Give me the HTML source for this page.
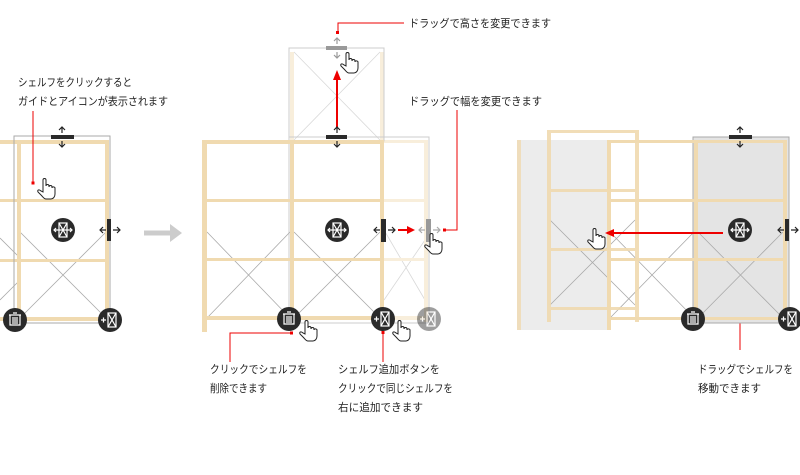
<!DOCTYPE html>
<html><head><meta charset="utf-8"><style>
html,body{margin:0;padding:0;background:#fff;}
svg text{font-family:"Liberation Sans","Noto Sans CJK JP",sans-serif;font-size:11px;fill:#222;}
</style></head><body>
<svg width="800" height="470" viewBox="0 0 800 470" xmlns="http://www.w3.org/2000/svg">
<defs>
<g id="trash"><circle r="12" fill="#2a2a2a"/><g stroke="#fff" stroke-width="1.2" fill="none"><path d="M-6,-5h12M-2,-7h4M-5,-5v10h10v-10M-2,-3v7M0,-3v7M2,-3v7"/></g></g>
<g id="add"><circle r="12" fill="#2a2a2a"/><g stroke="#fff" stroke-width="1.2" fill="none"><rect x="-2" y="-7" width="8" height="14"/><path d="M-2,-7l8,14M6,-7l-8,14M-9,0h5M-6.5,-2.5v5"/></g></g>
<g id="move"><circle r="12" fill="#2a2a2a"/><g stroke="#fff" stroke-width="1.2" fill="none"><rect x="-4" y="-7" width="8" height="14"/><path d="M-4,-7l8,14M4,-7l-8,14M-9,0h18M-7,-2l-2,2l2,2M7,-2l2,2l-2,2"/></g></g>
<g id="hand"><path d="M-2,-8c0,-2 3,-2 3,0v6c0,-2 3,-2 3,0v1c0,-2 3,-2 3,0v1c0,-2 3,-1 3,0v6c0,3 -2,5 -4,5h-5c-2,0 -3,-2 -5,-4l-3,-3c-1,-2 1,-3 3,-1l2,1z" fill="#fff" stroke="#222" stroke-width="1"/></g>
</defs>

<!-- ===== Panel 1 ===== -->
<g stroke="#aaa" stroke-width="0.8" fill="none">
<path d="M0,238L20,258M0,300L20,280"/>
<path d="M20,232L106,318M106,232L20,318"/>
</g>
<g fill="#f0dab0">
<rect x="0" y="140" width="108" height="4"/>
<rect x="0" y="199" width="108" height="3"/>
<rect x="0" y="259" width="108" height="3"/>
<rect x="0" y="317" width="108" height="4"/>
<rect x="17" y="140" width="4" height="183"/>
<rect x="105" y="140" width="4" height="183"/>
</g>
<rect x="14" y="136" width="96" height="187" fill="none" stroke="#aaa" stroke-width="1"/>
<rect x="51" y="135" width="23" height="4" fill="#2a2a2a"/>
<path d="M62,133v-6M59,130l3,-3l3,3M62,141v6M59,144l3,3l3,-3" stroke="#222" stroke-width="1.2" fill="none"/>
<rect x="107" y="219" width="4" height="22" fill="#2a2a2a"/>
<path d="M100,230h6M103,227l-3,3l3,3M113,230h7M117,227l3,3l-3,3" stroke="#222" stroke-width="1.2" fill="none"/>
<use href="#move" x="63" y="230"/>
<use href="#trash" x="15" y="320"/>
<use href="#add" x="110" y="320"/>
<use href="#hand" x="45" y="188"/>
<path d="M33,111V183" stroke="#e00" stroke-width="1"/>
<rect x="31.5" y="181.5" width="3" height="3" fill="#e00"/>
<text x="18" y="86" textLength="114" lengthAdjust="spacingAndGlyphs">シェルフをクリックすると</text>
<text x="18" y="105" textLength="150" lengthAdjust="spacingAndGlyphs">ガイドとアイコンが表示されます</text>

<!-- arrow -->
<path d="M144,233h28" stroke="#ccc" stroke-width="5"/>
<path d="M170,224l12,9l-12,9z" fill="#ccc"/>

<!-- ===== Panel 2 ===== -->
<g opacity="0.45">
<g stroke="#aaa" stroke-width="0.8"><path d="M294,52L380,140M380,52L294,140"/></g>
<rect x="290" y="52" width="4" height="89" fill="#f0dab0"/>
<rect x="380" y="52" width="4" height="89" fill="#f0dab0"/>
<g stroke="#aaa" stroke-width="0.8"><path d="M384,230L425,300M384,300L425,240"/></g>
<rect x="384" y="140" width="44" height="3" fill="#f0dab0"/>
<rect x="384" y="199" width="44" height="3" fill="#f0dab0"/>
<rect x="384" y="258" width="44" height="3" fill="#f0dab0"/>
<rect x="384" y="316" width="44" height="4" fill="#f0dab0"/>
<rect x="424" y="140" width="4" height="182" fill="#f0dab0"/>
</g>
<rect x="289" y="48" width="95" height="93" fill="none" stroke="#ccc" stroke-width="1"/>
<rect x="289" y="137" width="140" height="186" fill="none" stroke="#ccc" stroke-width="1"/>
<g stroke="#aaa" stroke-width="0.8" fill="none">
<path d="M207,232L290,318M290,232L207,318M294,232L380,318M380,232L294,318"/>
</g>
<g fill="#f0dab0">
<rect x="202" y="140" width="182" height="4"/>
<rect x="202" y="199" width="182" height="3"/>
<rect x="202" y="258" width="182" height="3"/>
<rect x="202" y="316" width="182" height="4"/>
<rect x="202" y="140" width="5" height="192"/>
<rect x="290" y="140" width="4" height="182"/>
<rect x="380" y="140" width="4" height="182"/>
</g>
<rect x="326" y="46" width="21" height="4" fill="#999"/>
<path d="M337,44v-6M334,41l3,-3l3,3M337,52v6M334,55l3,3l3,-3" stroke="#999" stroke-width="1.2" fill="none"/>
<path d="M337,127V78" stroke="#e00" stroke-width="2"/>
<path d="M333,80l4,-10l4,10z" fill="#e00"/>
<rect x="326" y="135" width="21" height="4" fill="#2a2a2a"/>
<path d="M337,133v-6M334,130l3,-3l3,3M337,141v6M334,144l3,3l3,-3" stroke="#222" stroke-width="1.2" fill="none"/>
<use href="#hand" x="348" y="62"/>
<use href="#move" x="337" y="230"/>
<rect x="381" y="219" width="5" height="23" fill="#2a2a2a"/>
<path d="M374,230h6M377,227l-3,3l3,3M388,230h7M392,227l3,3l-3,3" stroke="#222" stroke-width="1.2" fill="none"/>
<path d="M398,230h10" stroke="#e00" stroke-width="2"/>
<path d="M407,226l8,4l-8,4z" fill="#e00"/>
<rect x="426" y="219" width="5" height="23" fill="#999"/>
<path d="M419,230h6M422,227l-3,3l3,3M433,230h7M437,227l3,3l-3,3" stroke="#aaa" stroke-width="1.2" fill="none"/>
<use href="#hand" x="432" y="243"/>
<use href="#trash" x="289" y="319"/>
<use href="#add" x="383" y="319"/>
<g opacity="0.45"><use href="#add" x="429" y="319"/></g>
<use href="#hand" x="307" y="330"/>
<use href="#hand" x="400" y="330"/>
<!-- labels -->
<g stroke="#e00" stroke-width="1" fill="none">
<path d="M338,33V23H404"/>
<path d="M444,230H457V110"/>
<path d="M292,333H230V362"/>
<path d="M383,333V362"/>
<path d="M740,240V350"/>
</g>
<g fill="#e00">
<rect x="336" y="31" width="3" height="3"/>
<rect x="443" y="228.5" width="3" height="3"/>
<rect x="290" y="331.5" width="3" height="3"/>
<rect x="381.5" y="331" width="3" height="3"/>
<rect x="738.5" y="238" width="3" height="3"/>
</g>
<text x="409" y="27" textLength="142" lengthAdjust="spacingAndGlyphs">ドラッグで高さを変更できます</text>
<text x="409" y="105" textLength="133" lengthAdjust="spacingAndGlyphs">ドラッグで幅を変更できます</text>
<text x="210" y="373" textLength="97" lengthAdjust="spacingAndGlyphs">クリックでシェルフを</text>
<text x="210" y="392" textLength="57" lengthAdjust="spacingAndGlyphs">削除できます</text>
<text x="338" y="373" textLength="102" lengthAdjust="spacingAndGlyphs">シェルフ追加ボタンを</text>
<text x="338" y="392" textLength="115" lengthAdjust="spacingAndGlyphs">クリックで同じシェルフを</text>
<text x="338" y="411" textLength="85" lengthAdjust="spacingAndGlyphs">右に追加できます</text>
<text x="698" y="373" textLength="95" lengthAdjust="spacingAndGlyphs">ドラッグでシェルフを</text>
<text x="698" y="392" textLength="63" lengthAdjust="spacingAndGlyphs">移動できます</text>

<!-- ===== Panel 3 ===== -->
<rect x="517" y="140" width="93" height="190" fill="#ececec"/>
<rect x="517" y="140" width="4" height="190" fill="#f0dab0" opacity="0.8"/>
<rect x="693" y="137" width="96" height="186" fill="#e4e4e4" stroke="#aaa" stroke-width="1"/>
<g stroke="#aaa" stroke-width="0.8" fill="none">
<path d="M610,232L694,318M694,232L610,318M698,232L783,318M783,232L698,318M550,220L635,305M635,220L550,305"/>
</g>
<g fill="#f0dab0">
<rect x="607" y="140" width="179" height="3"/>
<rect x="607" y="199" width="179" height="3"/>
<rect x="607" y="258" width="179" height="3"/>
<rect x="607" y="317" width="179" height="3"/>
<rect x="607" y="140" width="4" height="190"/>
<rect x="694" y="140" width="4" height="182"/>
<rect x="783" y="140" width="4" height="182"/>
</g>
<g opacity="0.9">
<rect x="547" y="130" width="92" height="3" fill="#f0dab0"/>
<rect x="547" y="189" width="92" height="3" fill="#f0dab0"/>
<rect x="547" y="248" width="92" height="3" fill="#f0dab0"/>
<rect x="547" y="307" width="92" height="3" fill="#f0dab0"/>
<rect x="547" y="130" width="4" height="192" fill="#f0dab0"/>
<rect x="635" y="130" width="4" height="192" fill="#f0dab0"/>
</g>
<rect x="729" y="135" width="23" height="4" fill="#2a2a2a"/>
<path d="M740,133v-6M737,130l3,-3l3,3M740,141v6M737,144l3,3l3,-3" stroke="#222" stroke-width="1.2" fill="none"/>
<rect x="785" y="219" width="4" height="22" fill="#2a2a2a"/>
<path d="M778,230h6M781,227l-3,3l3,3M791,230h7M795,227l3,3l-3,3" stroke="#222" stroke-width="1.2" fill="none"/>
<path d="M723,233H612" stroke="#e00" stroke-width="2"/>
<path d="M614,229l-9,4l9,4z" fill="#e00"/>
<use href="#move" x="740" y="230"/>
<use href="#hand" x="595" y="238"/>
<use href="#trash" x="693" y="319"/>
<use href="#add" x="790" y="319"/>
</svg>
</body></html>
